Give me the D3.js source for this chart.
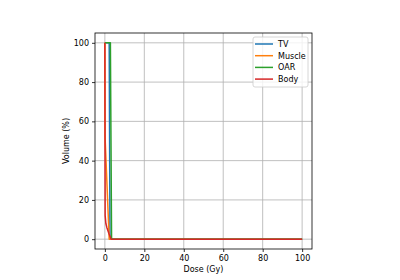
<!DOCTYPE html>
<html>
<head>
<meta charset="utf-8">
<script src="https://cdn.jsdelivr.net/npm/d3@7"></script>
<style>
  body { margin: 0; background: #fff; }
  text { font-family: "DejaVu Sans", sans-serif; }
</style>
</head>
<body>
<div id="main"></div>
<script>
(function() {
  // DVH curves (dose in Gy, volume in %)
  const seriesNames = ["TV", "Muscle", "OAR", "Body"];
  const seriesColors = ["#1f77b4", "#ff7f0e", "#2ca02c", "#d62728"];
  const tvDose = [0, 2.2, 2.6, 100];
  const tvVolume = [100, 100, 0, 0];
  const muscleDose = [0, 0.1, 2.2, 100];
  const muscleVolume = [100, 52, 0, 0];
  const oarDose = [0, 2.8, 3.4, 100];
  const oarVolume = [100, 100, 0, 0];
  const bodyDose = [0, 0.15, 0.5, 1, 2, 3.2, 100];
  const bodyVolume = [100, 12, 8, 6, 3, 0, 0];
  const xTicks = [0, 20, 40, 60, 80, 100];
  const yTicks = [0, 20, 40, 60, 80, 100];

  const doses = [tvDose, muscleDose, oarDose, bodyDose];
  const volumes = [tvVolume, muscleVolume, oarVolume, bodyVolume];
  const series = seriesNames.map((name, i) => ({
    name,
    color: seriesColors[i],
    points: doses[i].map((d, j) => [d, volumes[i][j]])
  }));

  const width = 400, height = 280;
  const left = 95, right = 312, top = 33, bottom = 249;
  const fontSize = 8;

  const x = d3.scaleLinear().domain([-5, 105]).range([left, right]);
  const y = d3.scaleLinear().domain([-5, 105]).range([bottom, top]);

  const svg = d3.select("#main")
    .append("svg")
    .attr("width", width)
    .attr("height", height);

  // grid
  svg.append("g")
    .selectAll("line")
    .data(xTicks)
    .join("line")
    .attr("x1", d => x(d)).attr("x2", d => x(d))
    .attr("y1", top).attr("y2", bottom)
    .attr("stroke", "#b0b0b0")
    .attr("stroke-width", 0.8);
  svg.append("g")
    .selectAll("line")
    .data(yTicks)
    .join("line")
    .attr("x1", left).attr("x2", right)
    .attr("y1", d => y(d)).attr("y2", d => y(d))
    .attr("stroke", "#b0b0b0")
    .attr("stroke-width", 0.8);

  // curves
  const line = d3.line()
    .x(d => x(d[0]))
    .y(d => y(d[1]));

  svg.append("g")
    .selectAll("path")
    .data(series)
    .join("path")
    .attr("d", d => line(d.points))
    .attr("fill", "none")
    .attr("stroke", d => d.color)
    .attr("stroke-width", 1.5)
    .attr("stroke-linejoin", "round");

  // axes
  const xAxis = svg.append("g")
    .attr("transform", `translate(0,${bottom})`)
    .call(d3.axisBottom(x).tickValues(xTicks).tickSize(3).tickPadding(3));
  const yAxis = svg.append("g")
    .attr("transform", `translate(${left},0)`)
    .call(d3.axisLeft(y).tickValues(yTicks).tickSize(3).tickPadding(3));
  [xAxis, yAxis].forEach(a => {
    a.select(".domain").remove();
    a.selectAll("text")
      .attr("font-size", fontSize)
      .attr("font-family", "DejaVu Sans")
      .attr("fill", "#000");
    a.selectAll("line").attr("stroke", "#000").attr("stroke-width", 0.8);
  });

  // frame
  svg.append("rect")
    .attr("x", left).attr("y", top)
    .attr("width", right - left).attr("height", bottom - top)
    .attr("fill", "none")
    .attr("stroke", "#000")
    .attr("stroke-width", 0.8);

  svg.append("text")
    .attr("x", (left + right) / 2)
    .attr("y", 272)
    .attr("text-anchor", "middle")
    .attr("font-size", fontSize)
    .text("Dose (Gy)");
  svg.append("text")
    .attr("transform", `translate(69,${(top + bottom) / 2}) rotate(-90)`)
    .attr("text-anchor", "middle")
    .attr("font-size", fontSize)
    .text("Volume (%)");

  // legend
  const legend = svg.append("g");
  legend.append("rect")
    .attr("x", 253).attr("y", 37)
    .attr("width", 55).attr("height", 50)
    .attr("rx", 2)
    .attr("fill", "#fff")
    .attr("fill-opacity", 0.8)
    .attr("stroke", "#cccccc")
    .attr("stroke-width", 0.8);
  const item = legend.selectAll("g")
    .data(series)
    .join("g")
    .attr("transform", (d, i) => `translate(0,${44 + i * 11.7})`);
  item.append("line")
    .attr("x1", 255).attr("x2", 273)
    .attr("stroke", d => d.color)
    .attr("stroke-width", 1.5);
  item.append("text")
    .attr("x", 278)
    .attr("dy", "0.35em")
    .attr("font-size", fontSize)
    .text(d => d.name);
})();
</script>
</body>
</html>
